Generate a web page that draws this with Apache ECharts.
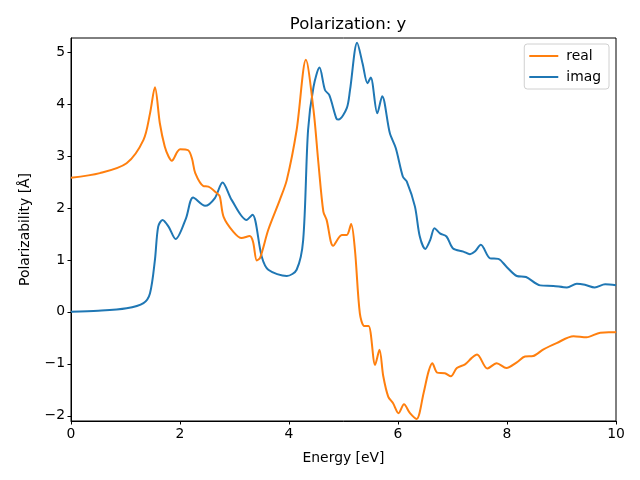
<!DOCTYPE html>
<html><head><meta charset="utf-8">
<script src="https://cdn.jsdelivr.net/npm/echarts@6/dist/echarts.min.js"></script>
<style>html,body{margin:0;padding:0;background:#fff}#c{width:640px;height:480px}</style>
</head><body><div id="c"></div>
<script>
const realX = [0, 0.53, 1.02, 1.33, 1.45, 1.54, 1.63, 1.72, 1.79, 1.85, 1.95, 2.0, 2.15, 2.22, 2.28, 2.43, 2.52, 2.67, 2.73, 2.80, 2.98, 3.13, 3.28, 3.34, 3.41, 3.47, 3.62, 3.83, 3.96, 4.14, 4.31, 4.45, 4.54, 4.63, 4.69, 4.81, 4.97, 5.06, 5.14, 5.21, 5.30, 5.38, 5.46, 5.58, 5.66, 5.73, 5.82, 5.91, 6.01, 6.11, 6.22, 6.34, 6.47, 6.56, 6.63, 6.72, 6.86, 6.97, 7.08, 7.23, 7.35, 7.45, 7.64, 7.81, 7.99, 8.18, 8.33, 8.48, 8.67, 8.91, 9.22, 9.46, 9.71, 9.98, 10];
const realY = [2.58, 2.67, 2.86, 3.31, 3.82, 4.32, 3.63, 3.18, 2.99, 2.91, 3.08, 3.13, 3.11, 2.95, 2.67, 2.42, 2.41, 2.29, 2.22, 1.83, 1.54, 1.42, 1.46, 1.35, 0.99, 1.04, 1.58, 2.15, 2.54, 3.5, 4.85, 3.88, 2.86, 1.93, 1.77, 1.27, 1.48, 1.48, 1.69, 1.19, -0.03, -0.27, -0.27, -1.02, -0.73, -1.24, -1.63, -1.76, -1.95, -1.78, -1.95, -2.06, -1.56, -1.15, -0.99, -1.17, -1.18, -1.24, -1.08, -1.01, -0.89, -0.82, -1.09, -0.99, -1.08, -0.97, -0.86, -0.85, -0.72, -0.60, -0.47, -0.49, -0.40, -0.39, -0.38];
const imagX = [0, 0.5, 1.02, 1.33, 1.45, 1.54, 1.60, 1.68, 1.79, 1.92, 2.11, 2.24, 2.46, 2.64, 2.78, 2.95, 3.22, 3.33, 3.50, 3.62, 3.96, 4.14, 4.26, 4.35, 4.45, 4.56, 4.66, 4.74, 4.87, 4.91, 5.06, 5.12, 5.25, 5.35, 5.44, 5.50, 5.62, 5.71, 5.85, 5.96, 6.09, 6.16, 6.31, 6.40, 6.50, 6.59, 6.67, 6.77, 6.89, 7.01, 7.20, 7.32, 7.41, 7.52, 7.69, 7.84, 7.99, 8.18, 8.35, 8.61, 8.85, 9.10, 9.28, 9.43, 9.61, 9.80, 10];
const imagY = [0, 0.02, 0.07, 0.17, 0.36, 1.0, 1.64, 1.77, 1.64, 1.40, 1.80, 2.20, 2.04, 2.19, 2.49, 2.15, 1.77, 1.87, 1.06, 0.81, 0.69, 0.81, 1.38, 3.5, 4.33, 4.70, 4.27, 4.17, 3.72, 3.70, 3.92, 4.27, 5.18, 4.78, 4.40, 4.51, 3.82, 4.15, 3.44, 3.15, 2.60, 2.51, 2.03, 1.45, 1.21, 1.38, 1.61, 1.51, 1.45, 1.22, 1.16, 1.11, 1.16, 1.29, 1.03, 1.02, 0.87, 0.69, 0.67, 0.51, 0.50, 0.47, 0.54, 0.52, 0.47, 0.53, 0.51];
const xTicks = [0, 2, 4, 6, 8, 10];
const yTicks = [-2, -1, 0, 1, 2, 3, 4, 5];

const fmt = v => (v < 0 ? '\u2212' + Math.abs(v) : String(v));
const font = 'DejaVu Sans';
const chart = echarts.init(document.getElementById('c'), null, {renderer: 'canvas'});
chart.setOption({
  animation: false,
  backgroundColor: '#fff',
  title: {text: 'Polarization: y', left: 343, top: 11, textAlign: 'center',
    textStyle: {fontFamily: font, fontSize: 16.5, fontWeight: 'normal', color: '#000'}},
  grid: {left: 71, right: 24, top: 38, bottom: 59, show: true, borderColor: '#000', borderWidth: 1, backgroundColor: 'transparent'},
  legend: {
    right: 31, top: 44, orient: 'vertical', itemGap: 7,
    data: ['real', 'imag'],
    icon: 'rect', itemWidth: 29, itemHeight: 2,
    padding: [5, 8, 5, 5],
    borderColor: '#d0d0d0', borderWidth: 1, borderRadius: 3,
    backgroundColor: 'rgba(255,255,255,0.8)',
    textStyle: {fontFamily: font, fontSize: 13.9, color: '#000', padding: [0, 0, 0, 3]}
  },
  xAxis: {
    type: 'value', min: 0, max: 10,
    name: 'Energy [eV]', nameLocation: 'middle', nameGap: 30,
    nameTextStyle: {fontFamily: font, fontSize: 13.9, color: '#000'},
    axisLine: {show: true, onZero: false, lineStyle: {color: '#000', width: 1}},
    axisTick: {show: true, length: 3.5, lineStyle: {color: '#000'}, customValues: xTicks},
    axisLabel: {fontFamily: font, fontSize: 13.9, color: '#000', margin: 6, customValues: xTicks, formatter: fmt},
    splitLine: {show: false}
  },
  yAxis: {
    type: 'value', min: -2.1, max: 5.27,
    name: 'Polarizability [Å]', nameLocation: 'middle', nameGap: 39,
    nameTextStyle: {fontFamily: font, fontSize: 13.9, color: '#000'},
    axisLine: {show: true, onZero: false, lineStyle: {color: '#000', width: 1}},
    axisTick: {show: true, length: 3.5, lineStyle: {color: '#000'}, customValues: yTicks},
    axisLabel: {fontFamily: font, fontSize: 13.9, color: '#000', margin: 6, customValues: yTicks, formatter: fmt},
    splitLine: {show: false}
  },
  series: [
    {name: 'real', type: 'line', data: realX.map((x, i) => [x, realY[i]]), smooth: 0.3,
     showSymbol: false, lineStyle: {color: '#ff7f0e', width: 2}, itemStyle: {color: '#ff7f0e'}, z: 3},
    {name: 'imag', type: 'line', data: imagX.map((x, i) => [x, imagY[i]]), smooth: 0.3,
     showSymbol: false, lineStyle: {color: '#1f77b4', width: 2}, itemStyle: {color: '#1f77b4'}, z: 2}
  ]
});
</script></body></html>
